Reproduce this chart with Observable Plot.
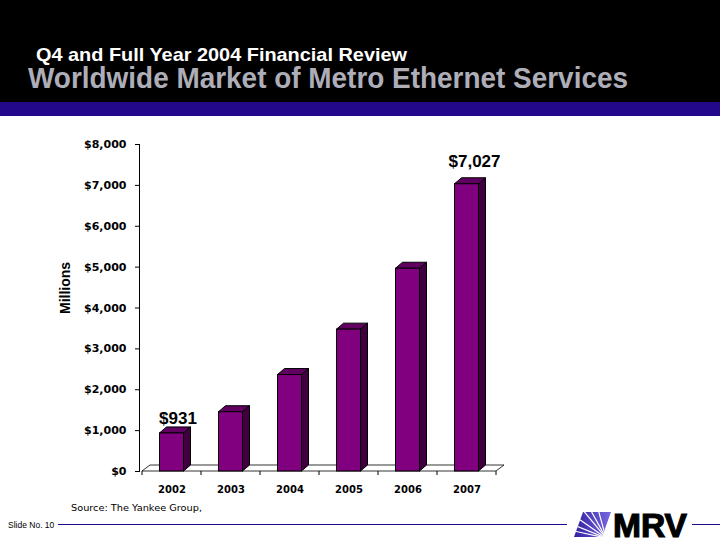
<!DOCTYPE html>
<html><head><meta charset="utf-8">
<script src="https://cdn.jsdelivr.net/npm/d3@7"></script>
<script src="https://cdn.jsdelivr.net/npm/@observablehq/plot@0.6"></script>
<style>
body{margin:0;background:#fff;}
#slide{position:relative;width:720px;height:540px;overflow:hidden;font-family:"Liberation Sans",Arial,sans-serif;background:#fff;}
#hdr{position:absolute;left:0;top:0;width:720px;height:102px;background:#000;}
#band{position:absolute;left:0;top:102px;width:720px;height:14px;background:#24088c;}
.t{position:absolute;white-space:nowrap;font-weight:bold;transform-origin:0 0;}
#t1{left:36px;top:45.6px;color:#fff;font-size:19px;line-height:0.9;}
#t2{left:28px;top:63.5px;color:#aeaeb8;font-size:29px;line-height:1;}
#chart{position:absolute;left:0;top:116px;}
#src{position:absolute;left:71px;top:504px;font-family:"DejaVu Sans";font-size:9px;line-height:1;white-space:nowrap;transform-origin:0 0;}
#slideno{position:absolute;left:8px;top:521px;font-family:"Liberation Sans";font-size:8.5px;line-height:1;white-space:nowrap;}
.ln{position:absolute;height:1px;background:#24088c;top:524px;}
#logo{position:absolute;left:574px;top:503px;}
</style></head>
<body>
<div id="slide">
  <div id="hdr"></div>
  <div id="band"></div>
  <div class="t" id="t1">Q4 and Full Year 2004 Financial Review</div>
  <div class="t" id="t2">Worldwide Market of Metro Ethernet Services</div>
  <div id="chart"></div>
  <div id="src">Source: The Yankee Group,</div>
  <div id="slideno">Slide No. 10</div>
  <div class="ln" style="left:58px;width:509px"></div>
  <div class="ln" style="left:692px;width:28px"></div>
  <svg id="logo" width="120" height="37">
    <defs>
      <linearGradient id="lg" x1="0" y1="0" x2="1" y2="0">
        <stop offset="0" stop-color="#3020a0"/><stop offset="1" stop-color="#7868e0"/>
      </linearGradient>
      <clipPath id="cp"><polygon points="9,9 37,9 28,34 0,34"/></clipPath>
    </defs>
    <polygon points="9,9 37,9 28,34 0,34" fill="url(#lg)"/>
    <g clip-path="url(#cp)" stroke="#fff" stroke-width="1.2">
      <line x1="32" y1="35" x2="0" y2="22"/>
      <line x1="32" y1="35" x2="2" y2="14"/>
      <line x1="32" y1="35" x2="8" y2="6"/>
      <line x1="32" y1="35" x2="16" y2="6"/>
      <line x1="32" y1="35" x2="24" y2="6"/>
      <line x1="32" y1="35" x2="0" y2="28"/>
    </g>
    <text x="39" y="34" font-family="Liberation Sans" font-weight="bold" font-size="34" stroke="#000" stroke-width="1.2" textLength="74" lengthAdjust="spacingAndGlyphs">MRV</text>
  </svg>
</div>
<script>
const years = ["2002", "2003", "2004", "2005", "2006", "2007"];
const revenue = [931, 1450, 2360, 3470, 4960, 7027];
const yTicks = [0, 1000, 2000, 3000, 4000, 5000, 6000, 7000, 8000];
const valueLabels = ["$931", "", "", "", "", "$7,027"];
const axisTitle = ["Millions"];

const table = years.map((year, i) => ({year, value: revenue[i], label: valueLabels[i]}));

const FRONT = "#800080", SIDE = "#400040", TOP = "#600060";
const DX = 7, DY = 6, FX = 8, FY = 6, HALF = 12;

function bandOf(x, dimensions) {
  if (typeof x.bandwidth === "function") return x.bandwidth();
  if (typeof x.bandwidth === "number") return x.bandwidth;
  return (dimensions.width - dimensions.marginLeft - dimensions.marginRight) / years.length;
}

const floorMark = Plot.ruleY([0], {
  render(index, scales, values, dimensions) {
    const {x, y} = scales;
    const b = bandOf(x, dimensions);
    const y0 = y(0);
    const starts = years.map(v => x(v));
    const xl = starts[0], xr = starts[starts.length - 1] + b;
    const g = d3.create("svg:g");
    g.append("path")
      .attr("d", `M${xl},${y0}L${xr},${y0}L${xr + FX},${y0 - FY}L${xl + FX},${y0 - FY}Z`)
      .attr("fill", "white").attr("stroke", "black").attr("stroke-width", 0.8);
    const bounds = starts.concat([xr]);
    for (const bx of bounds) {
      g.append("line").attr("x1", bx).attr("x2", bx).attr("y1", y0).attr("y2", y0 + 4)
        .attr("stroke", "black");
    }
    return g.node();
  }
});

const barsMark = Plot.barY(table, {
  x: "year", y: "value",
  render(index, scales, values, dimensions) {
    const {x, y} = scales;
    const b = bandOf(x, dimensions);
    const g = d3.create("svg:g").attr("stroke", "black").attr("stroke-width", 1).attr("stroke-linejoin", "miter");
    for (const i of index) {
      const d = table[i];
      const cx = x(d.year) + b / 2;
      const x0 = cx - HALF, x1 = cx + HALF, yb = y(0), yt = y(d.value);
      g.append("path").attr("d", `M${x1},${yb}L${x1 + DX},${yb - DY}L${x1 + DX},${yt - DY}L${x1},${yt}Z`).attr("fill", SIDE);
      g.append("path").attr("d", `M${x0},${yt}L${x0 + DX},${yt - DY}L${x1 + DX},${yt - DY}L${x1},${yt}Z`).attr("fill", TOP);
      g.append("rect").attr("x", x0).attr("y", yt).attr("width", x1 - x0).attr("height", yb - yt).attr("fill", FRONT);
    }
    return g.node();
  }
});

const chart = Plot.plot({
  width: 720, height: 384,
  marginTop: 28, marginBottom: 29, marginLeft: 139, marginRight: 222,
  x: {domain: years, padding: 0, label: null},
  y: {domain: [0, 8000], label: null},
  style: {fontFamily: "DejaVu Sans", fontWeight: "bold", fontSize: "11px", color: "black", background: "transparent", overflow: "visible"},
  marks: [
    floorMark,
    Plot.frame({anchor: "left", stroke: "black"}),
    Plot.axisY({ticks: yTicks, tickSize: 4, tickPadding: 9, tickFormat: d => "$" + d3.format(",")(d), fontSize: 11, fontWeight: "bold", label: null}),
    Plot.axisX({tickSize: 0, tickPadding: 14, fontSize: 10, fontWeight: "bold", label: null}),
    barsMark,
    Plot.text(table, {filter: (d, i) => i === 0, x: "year", y: "value", text: "label", dx: 6, dy: -14.4, fontFamily: "Liberation Sans", fontSize: 17, fontWeight: "bold"}),
    Plot.text(table, {filter: (d, i) => i === table.length - 1, x: "year", y: "value", text: "label", dx: 7.5, dy: -22.4, fontFamily: "Liberation Sans", fontSize: 17, fontWeight: "bold"}),
    Plot.text(axisTitle, {frameAnchor: "left", text: d => d, rotate: -90, dx: -74, dy: 6, fontFamily: "Liberation Sans", fontSize: 14, fontWeight: "bold"})
  ]
});
document.getElementById("chart").appendChild(chart);

function fit(id, w) {
  const el = document.getElementById(id);
  const r = el.getBoundingClientRect().width;
  if (r > 0) el.style.transform = `scaleX(${w / r})`;
}
fit("t1", 371);
fit("t2", 600);
fit("src", 131);
</script>
</body></html>
